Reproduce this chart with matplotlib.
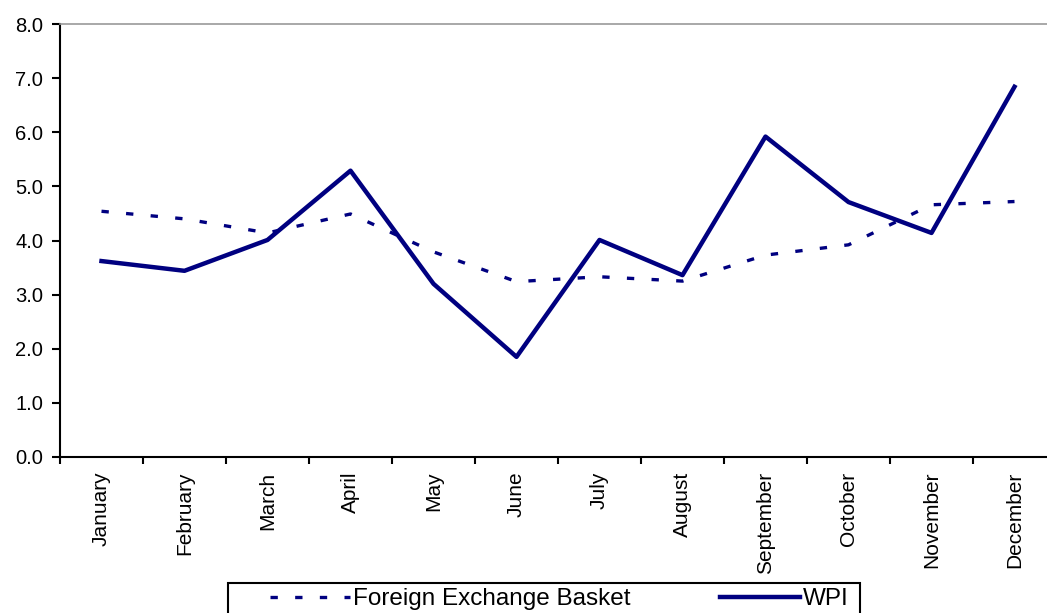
import matplotlib.pyplot as plt
from matplotlib.patches import Rectangle

plt.rcParams['font.family'] = ['Liberation Sans', 'DejaVu Sans']

months = ['January', 'February', 'March', 'April', 'May', 'June', 'July',
          'August', 'September', 'October', 'November', 'December']
fx_basket = [4.54, 4.40, 4.14, 4.49, 3.79, 3.24, 3.33, 3.25, 3.73, 3.92, 4.66, 4.72]
wpi = [3.62, 3.44, 4.01, 5.29, 3.20, 1.85, 4.01, 3.36, 5.92, 4.71, 4.14, 6.84]
y_ticks = [0, 1, 2, 3, 4, 5, 6, 7, 8]

navy = '#000080'

fig = plt.figure(figsize=(10.47, 6.13), dpi=100)
ax = fig.add_axes([60 / 1047, 1 - 457 / 613, 996 / 1047, 433 / 613])

x = list(range(len(months)))
ax.plot(x, fx_basket, color=navy, lw=2.4, dashes=(2.2, 5.2),
        label='Foreign Exchange Basket')
ax.plot(x, wpi, color=navy, lw=3.2, label='WPI')

ax.set_xlim(-0.5, len(months) - 0.5)
ax.set_ylim(0, 8)
ax.set_yticks(y_ticks)
ax.set_yticklabels([f'{v:.1f}' for v in y_ticks], fontsize=14.5)
ax.set_xticks(x)
ax.set_xticklabels(months, rotation=90, fontsize=15)
ax.set_xticks([i - 0.5 for i in range(len(months) + 1)], minor=True)
ax.tick_params(axis='x', which='major', length=0, pad=10.5)
ax.tick_params(axis='x', which='minor', length=5, width=1.5, color='black')
ax.tick_params(axis='y', length=6, width=1.5, pad=6)

ax.spines['left'].set_linewidth(1.5)
ax.spines['bottom'].set_linewidth(1.5)
ax.spines['top'].set_color('#999999')
ax.spines['top'].set_linewidth(1.2)
ax.spines['right'].set_visible(False)

# legend box, running off the bottom edge like the original
fig.patches.append(Rectangle((228 / 1047, -0.05), (860 - 228) / 1047, 0.05 + 30 / 613,
                             transform=fig.transFigure, fill=False,
                             edgecolor='black', lw=1.5))
fig.legend(loc='center left', bbox_to_anchor=(270 / 1047, 1 - 599 / 613),
           ncol=2, fontsize=17.5, frameon=False,
           handlelength=3.3, handletextpad=0.1, columnspacing=3.7,
           borderpad=0, borderaxespad=0)

fig.savefig('out.png', dpi=100)
